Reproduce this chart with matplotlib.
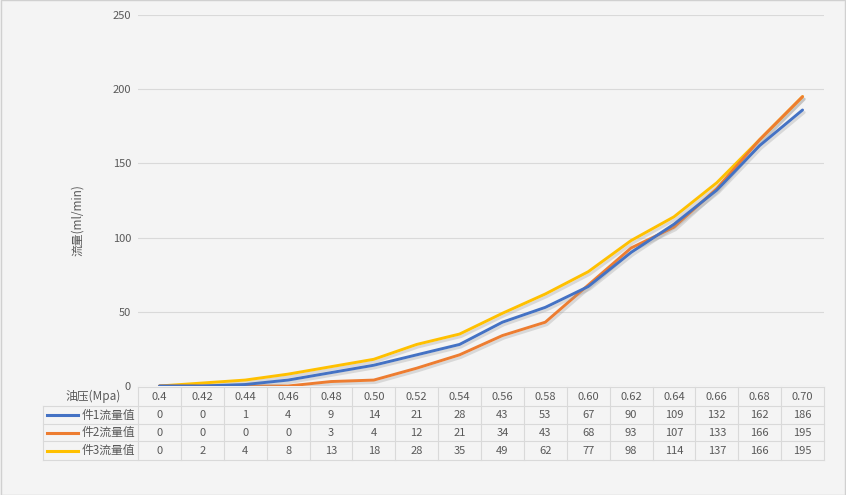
import matplotlib.pyplot as plt
import matplotlib.patheffects as pe
from matplotlib.lines import Line2D

plt.rcParams["font.family"] = ["Noto Sans CJK SC", "DejaVu Sans"]

pressure = ["0.4", "0.42", "0.44", "0.46", "0.48", "0.50", "0.52", "0.54",
            "0.56", "0.58", "0.60", "0.62", "0.64", "0.66", "0.68", "0.70"]
flow1 = [0, 0, 1, 4, 9, 14, 21, 28, 43, 53, 67, 90, 109, 132, 162, 186]
flow2 = [0, 0, 0, 0, 3, 4, 12, 21, 34, 43, 68, 93, 107, 133, 166, 195]
flow3 = [0, 2, 4, 8, 13, 18, 28, 35, 49, 62, 77, 98, 114, 137, 166, 195]
series = [("件1流量值", flow1, "#4472C4"),
          ("件2流量值", flow2, "#ED7D31"),
          ("件3流量值", flow3, "#FFC000")]

W, H = 846, 495
BG = "#f4f4f4"
TXT = "#595959"
GRID = "#d9d9d9"

fig = plt.figure(figsize=(W / 100, H / 100), dpi=100, facecolor=BG)
left, right, top, bottom = 138, 824, 15, 386
ax = fig.add_axes([left / W, 1 - bottom / H, (right - left) / W, (bottom - top) / H])
ax.set_facecolor(BG)

x = list(range(len(pressure)))
# draw back to front: series 3 behind
for name, vals, color in series[::-1]:
    ax.plot(x, vals, color=color, lw=2.1, solid_capstyle="round",
            path_effects=[pe.SimpleLineShadow(offset=(1.2, -1.8), shadow_color="#999999", alpha=0.3),
                          pe.Normal()])

ax.set_xlim(-0.5, len(pressure) - 0.5)
ax.set_ylim(0, 250)
ax.set_yticks([0, 50, 100, 150, 200, 250])
ax.yaxis.grid(True, color=GRID, lw=0.8)
ax.set_axisbelow(True)
ax.set_xticks([])
for s in ax.spines.values():
    s.set_visible(False)
ax.tick_params(axis="y", length=0, colors=TXT, labelsize=8, pad=5)
# raise the "0" label a little so it sits above the table header, as in the reference
ax.get_yticklabels()[0].set_y(2)


def fx(px):
    return px / W


def fy(py):
    return 1 - py / H


fig.text(fx(78), fy(220), "流量(ml/min)", rotation=90, ha="center", va="center",
         color=TXT, fontsize=8.5)

# data table below the plot
rows_y = [387, 406, 424, 441, 460]
col_w = (right - left) / len(pressure)
label_left = 43
lc = GRID
fig.add_artist(Line2D([fx(left), fx(right)], [fy(rows_y[0])] * 2, color=lc, lw=0.8))
for yy in rows_y[1:]:
    fig.add_artist(Line2D([fx(label_left), fx(right)], [fy(yy)] * 2, color=lc, lw=0.8))
for i in range(len(pressure) + 1):
    xx = left + i * col_w
    fig.add_artist(Line2D([fx(xx)] * 2, [fy(rows_y[0]), fy(rows_y[-1])], color=lc, lw=0.8))
fig.add_artist(Line2D([fx(label_left)] * 2, [fy(rows_y[1]), fy(rows_y[-1])], color=lc, lw=0.8))

fig.text(fx(121), fy((rows_y[0] + rows_y[1]) / 2), "油压(Mpa)", ha="right", va="center",
         color=TXT, fontsize=8.5)
for i, p in enumerate(pressure):
    fig.text(fx(left + (i + 0.5) * col_w), fy((rows_y[0] + rows_y[1]) / 2), p,
             ha="center", va="center", color=TXT, fontsize=8)

for r, (name, vals, color) in enumerate(series):
    yc = fy((rows_y[r + 1] + rows_y[r + 2]) / 2)
    fig.add_artist(Line2D([fx(47), fx(78)], [yc, yc], color=color, lw=2.2))
    fig.text(fx(135), yc, name, ha="right", va="center", color=TXT, fontsize=8.5)
    for i, v in enumerate(vals):
        fig.text(fx(left + (i + 0.5) * col_w), yc, str(v), ha="center", va="center",
                 color=TXT, fontsize=8)

fig.add_artist(plt.Rectangle((0.001, 0.001), 0.998, 0.998, transform=fig.transFigure,
                             fill=False, edgecolor="#d0d0d0", lw=1))

fig.savefig("out.png", dpi=100, facecolor=BG)
